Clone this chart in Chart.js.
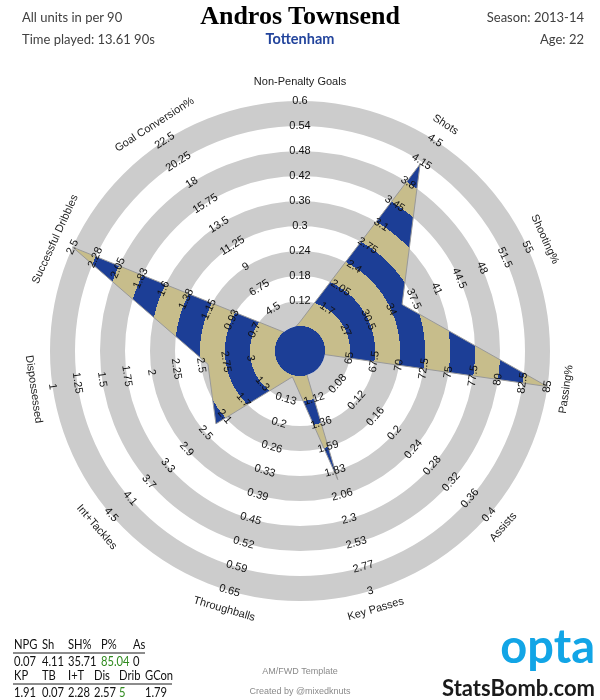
<!DOCTYPE html>
<html>
<head>
<meta charset="utf-8">
<script src="https://cdn.jsdelivr.net/npm/chart.js@4.4.0/dist/chart.umd.min.js"></script>
<style>
  body { margin: 0; background: #fff; }
  #wrap { position: relative; width: 600px; height: 700px; overflow: hidden; }
  #radar { position: absolute; left: 0; top: 0; }
  .t { position: absolute; white-space: nowrap; font-family: Lato, sans-serif; color: #404040; line-height: 1; }
  .cell { transform: scaleX(0.86); transform-origin: left center; }
</style>
</head>
<body>
<div id="wrap">
  <canvas id="radar" width="600" height="700"></canvas>
  <div id="texts"></div>
</div>
<script>
// radar axes, clockwise from the top
const axes = ['Non-Penalty Goals', 'Shots', 'Shooting%', 'Passing%', 'Assists', 'Key Passes',
  'Throughballs', 'Int+Tackles', 'Dispossessed', 'Successful Dribbles', 'Goal Conversion%'];
const playerValues = [0.07, 4.11, 35.71, 85.04, 0, 1.91, 0.07, 2.28, 2.57, 5, 1.79];
// value at the centre and at the outer ring (Dispossessed runs backwards)
const axisMin = [0, 1, 20, 60, 0, 0.65, 0, 0.5, 3.5, 0.25, 0];
const axisMax = [0.6, 4.5, 55, 85, 0.4, 3, 0.65, 4.5, 1, 2.5, 22.5];
// labels on rings 2..10
const tickLabels = [
  ['0.12', '0.18', '0.24', '0.3', '0.36', '0.42', '0.48', '0.54', '0.6'],
  ['1.7', '2.05', '2.4', '2.75', '3.1', '3.45', '3.8', '4.15', '4.5'],
  ['27', '30.5', '34', '37.5', '41', '44.5', '48', '51.5', '55'],
  ['65', '67.5', '70', '72.5', '75', '77.5', '80', '82.5', '85'],
  ['0.08', '0.12', '0.16', '0.2', '0.24', '0.28', '0.32', '0.36', '0.4'],
  ['1.12', '1.36', '1.59', '1.83', '2.06', '2.3', '2.53', '2.77', '3'],
  ['0.13', '0.2', '0.26', '0.33', '0.39', '0.45', '0.52', '0.59', '0.65'],
  ['1.3', '1.7', '2.1', '2.5', '2.9', '3.3', '3.7', '4.1', '4.5'],
  ['3', '2.75', '2.5', '2.25', '2', '1.75', '1.5', '1.25', '1'],
  ['0.7', '0.93', '1.15', '1.38', '1.6', '1.83', '2.05', '2.28', '2.5'],
  ['4.5', '6.75', '9', '11.25', '13.5', '15.75', '18', '20.25', '22.5']
];
const statHeads1 = ['NPG', 'Sh', 'SH%', 'P%', 'As'];
const statVals1 = ['0.07', '4.11', '35.71', '85.04', '0'];
const statHeads2 = ['KP', 'TB', 'I+T', 'Dis', 'Drib', 'GCon'];
const statVals2 = ['1.91', '0.07', '2.28', '2.57', '5', '1.79'];
const highlighted = ['85.04', '5'];

const RINGS = 10;
const BLUE = '#1c3e96';
const TAN = '#c7bd8b';
const GREY = '#cccccc';

// put each value on a 0..10 ring scale
const ringValues = playerValues.map((v, i) => {
  let r = (v - axisMin[i]) / (axisMax[i] - axisMin[i]) * RINGS;
  return Math.max(0, Math.min(RINGS, r));
});

function bandFill(context) {
  const chart = context.chart;
  const s = chart.scales.r;
  if (!s || !isFinite(s.xCenter) || !isFinite(s.yCenter) || !(s.drawingArea > 0)) return BLUE;
  const g = chart.ctx.createRadialGradient(s.xCenter, s.yCenter, 0, s.xCenter, s.yCenter, s.drawingArea);
  for (let k = 0; k < RINGS; k++) {
    const c = k % 2 === 0 ? BLUE : TAN;
    g.addColorStop(k / RINGS, c);
    g.addColorStop((k + 1) / RINGS, c);
  }
  return g;
}

function labelAngle(i) {
  let deg = i * 360 / axes.length;
  if (deg > 90 && deg < 270) deg -= 180;
  return deg * Math.PI / 180;
}

const radarDecor = {
  id: 'radarDecor',
  beforeDatasetsDraw(chart) {
    const s = chart.scales.r;
    const ctx = chart.ctx;
    ctx.save();
    ctx.strokeStyle = GREY;
    for (let k = 1; k < RINGS; k += 2) {
      const inner = s.getDistanceFromCenterForValue(k);
      const outer = s.getDistanceFromCenterForValue(k + 1);
      ctx.lineWidth = outer - inner;
      ctx.beginPath();
      ctx.arc(s.xCenter, s.yCenter, (inner + outer) / 2, 0, Math.PI * 2);
      ctx.stroke();
    }
    ctx.restore();
  },
  afterDatasetsDraw(chart) {
    const s = chart.scales.r;
    const ctx = chart.ctx;
    ctx.save();
    ctx.fillStyle = BLUE;
    ctx.beginPath();
    ctx.arc(s.xCenter, s.yCenter, s.getDistanceFromCenterForValue(1), 0, Math.PI * 2);
    ctx.fill();
    ctx.restore();
  },
  afterDraw(chart) {
    const s = chart.scales.r;
    const ctx = chart.ctx;
    ctx.save();
    ctx.fillStyle = '#111';
    ctx.textAlign = 'center';
    ctx.textBaseline = 'middle';
    axes.forEach((name, i) => {
      const rot = labelAngle(i);
      tickLabels[i].forEach((lab, j) => {
        const p = s.getPointPosition(i, s.getDistanceFromCenterForValue(j + 2));
        ctx.save();
        ctx.translate(p.x, p.y);
        ctx.rotate(rot);
        ctx.font = '11px "Liberation Sans", Arial, sans-serif';
        ctx.fillText(lab, 0, 0);
        ctx.restore();
      });
      const t = s.getPointPosition(i, s.drawingArea + 19);
      ctx.save();
      ctx.translate(t.x, t.y);
      ctx.rotate(rot);
      ctx.font = '11px "Liberation Sans", Arial, sans-serif';
      ctx.fillStyle = '#222';
      ctx.fillText(name, 0, 0);
      ctx.restore();
    });
    ctx.restore();
  }
};

const chart = new Chart(document.getElementById('radar'), {
  type: 'radar',
  data: {
    labels: axes,
    datasets: [{
      data: ringValues,
      backgroundColor: bandFill,
      borderColor: '#999999',
      borderWidth: 1,
      pointRadius: 0,
      fill: true,
      tension: 0
    }]
  },
  options: {
    responsive: false,
    animation: false,
    layout: { padding: { left: 50, right: 50, top: 101, bottom: 99 } },
    plugins: { legend: { display: false }, tooltip: { enabled: false } },
    scales: {
      r: {
        min: 0,
        max: RINGS,
        ticks: { display: false, stepSize: 1 },
        grid: { display: false },
        angleLines: { display: false },
        pointLabels: { display: false }
      }
    }
  },
  plugins: [radarDecor]
});
chart.update();

// header, stats table and logos
const box = document.getElementById('texts');
function put(text, css, cls) {
  const d = document.createElement('div');
  d.className = 't' + (cls ? ' ' + cls : '');
  d.textContent = text;
  Object.assign(d.style, css);
  box.appendChild(d);
  return d;
}
put('All units in per 90', { left: '22px', top: '11px', fontSize: '13px' });
put('Time played: 13.61 90s', { left: '22px', top: '33px', fontSize: '13px' });
put('Season: 2013-14', { right: '16px', top: '11px', fontSize: '13px' });
put('Age: 22', { right: '16px', top: '33px', fontSize: '13px' });
put('Andros Townsend', { left: '0', width: '600px', textAlign: 'center', top: '3px',
  fontFamily: '"Liberation Serif", serif', fontWeight: 'bold', fontSize: '26px', color: '#000' });
put('Tottenham', { left: '0', width: '600px', textAlign: 'center', top: '32px',
  fontWeight: 'bold', fontSize: '14.5px', color: '#22449c' });

const col1 = [14, 42, 68, 101, 133];
const col2 = [14, 42, 68, 94, 119, 145];
function statRow(heads, vals, cols, y, lineEnd) {
  heads.forEach((h, i) => put(h, { left: cols[i] + 'px', top: y + 'px', fontSize: '13px', color: '#111' }, 'cell'));
  put('', { left: '13px', top: (y + 14) + 'px', width: (lineEnd - 13) + 'px', height: '0', borderTop: '2px solid #8c8c8c' });
  vals.forEach((v, i) => put(v, { left: cols[i] + 'px', top: (y + 17) + 'px', fontSize: '13px',
    color: highlighted.includes(v) ? '#2f8a1e' : '#111' }, 'cell'));
}
statRow(statHeads1, statVals1, col1, 638, 145);
statRow(statHeads2, statVals2, col2, 669, 172);

put('AM/FWD Template', { left: '0', width: '600px', textAlign: 'center', top: '667px', fontSize: '9px', color: '#8a8a8a',
  fontFamily: '"Liberation Sans", Arial, sans-serif' });
put('Created by @mixedknuts', { left: '0', width: '600px', textAlign: 'center', top: '687px', fontSize: '9px', color: '#8a8a8a',
  fontFamily: '"Liberation Sans", Arial, sans-serif' });
put('opta', { right: '5px', top: '622px', fontSize: '47px', fontWeight: 'bold', color: '#12a5e6' });
put('StatsBomb.com', { right: '5px', top: '677px', fontSize: '22px', fontWeight: 'bold', color: '#1a1a1a' });
</script>
</body>
</html>
